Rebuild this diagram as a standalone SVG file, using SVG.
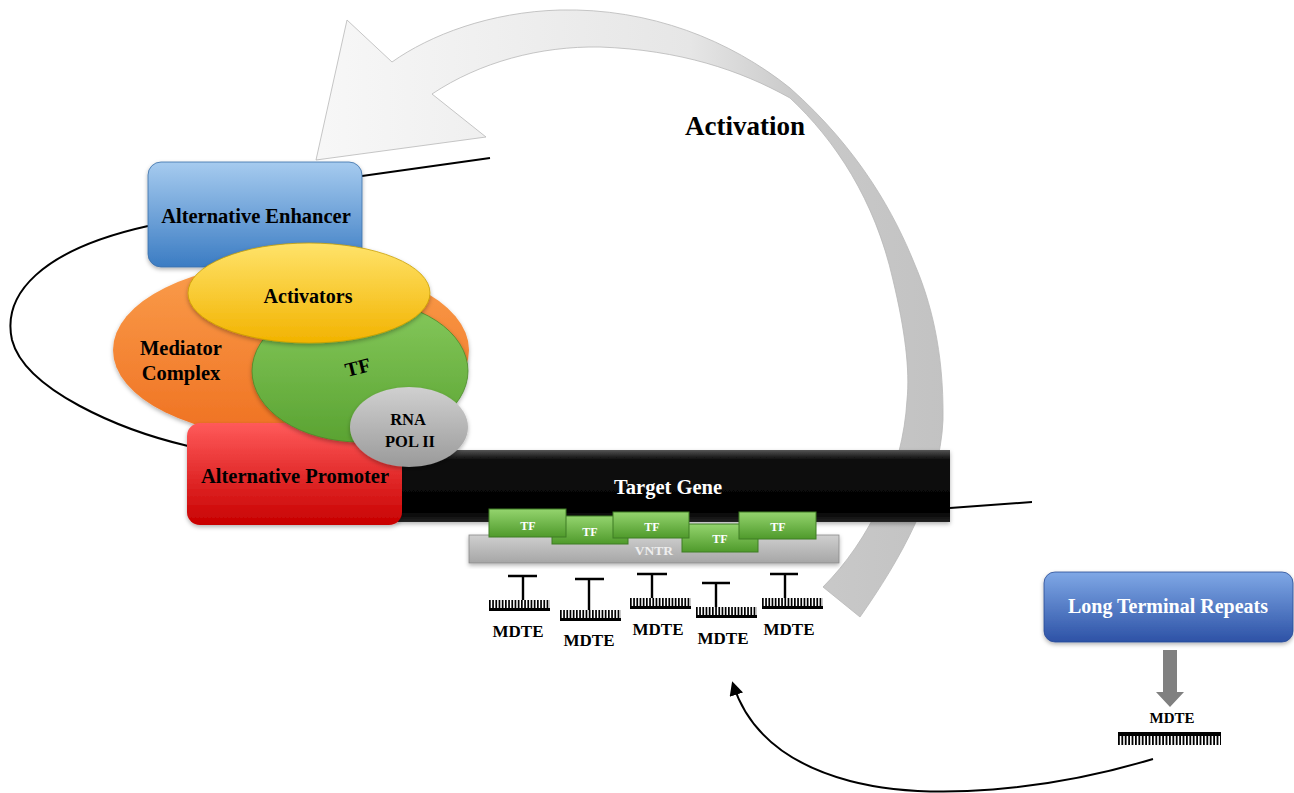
<svg xmlns="http://www.w3.org/2000/svg" xmlns:xlink="http://www.w3.org/1999/xlink" width="1294" height="793" viewBox="0 0 1294 793">
<defs>
<style>
.t{font-family:"Liberation Serif","Times New Roman",serif;font-weight:bold;text-anchor:middle;}
.blk{fill:#000;}
.wht{fill:#fff;}
.ln{fill:none;stroke:#000;stroke-width:2;}
.tbar{stroke:#000;stroke-width:2.4;fill:none;}
.tf{fill:url(#gGreen);stroke:#3f7d25;stroke-width:1;}
</style>
<linearGradient id="gArrow" gradientUnits="userSpaceOnUse" x1="300" y1="0" x2="950" y2="0">
<stop offset="0" stop-color="#f8f8f8"/>
<stop offset="0.6" stop-color="#e6e6e6"/>
<stop offset="0.76" stop-color="#cacaca"/>
<stop offset="1" stop-color="#c2c2c2"/>
</linearGradient>
<linearGradient id="gBlue" x1="0" y1="0" x2="0" y2="1">
<stop offset="0" stop-color="#a6cbef"/>
<stop offset="1" stop-color="#3b7cc3"/>
</linearGradient>
<linearGradient id="gLTR" x1="0" y1="0" x2="0" y2="1">
<stop offset="0" stop-color="#7fa8e6"/>
<stop offset="1" stop-color="#2d52a6"/>
</linearGradient>
<linearGradient id="gRed" x1="0" y1="0" x2="0" y2="1">
<stop offset="0" stop-color="#ff5a5a"/>
<stop offset="1" stop-color="#c80000"/>
</linearGradient>
<linearGradient id="gOrange" x1="0" y1="0" x2="0" y2="1">
<stop offset="0" stop-color="#fa9d4c"/>
<stop offset="1" stop-color="#ef7121"/>
</linearGradient>
<linearGradient id="gYellow" x1="0" y1="0" x2="0" y2="1">
<stop offset="0" stop-color="#ffe36a"/>
<stop offset="1" stop-color="#f2b300"/>
</linearGradient>
<linearGradient id="gGreenE" x1="0" y1="0" x2="0" y2="1">
<stop offset="0" stop-color="#86c95c"/>
<stop offset="1" stop-color="#5aa332"/>
</linearGradient>
<linearGradient id="gGreen" x1="0" y1="0" x2="0" y2="1">
<stop offset="0" stop-color="#94d46e"/>
<stop offset="1" stop-color="#4f9a2b"/>
</linearGradient>
<linearGradient id="gGray" x1="0" y1="0" x2="0" y2="1">
<stop offset="0" stop-color="#d0d0d0"/>
<stop offset="1" stop-color="#9a9a9a"/>
</linearGradient>
<linearGradient id="gVNTR" x1="0" y1="0" x2="0" y2="1">
<stop offset="0" stop-color="#cfcfcf"/>
<stop offset="1" stop-color="#a6a6a6"/>
</linearGradient>
<linearGradient id="gBlack" x1="0" y1="0" x2="0" y2="1">
<stop offset="0" stop-color="#555"/>
<stop offset="0.12" stop-color="#111"/>
<stop offset="0.85" stop-color="#000"/>
<stop offset="1" stop-color="#222"/>
</linearGradient>
<filter id="sh" x="-10%" y="-10%" width="120%" height="130%">
<feDropShadow dx="0" dy="2" stdDeviation="2" flood-color="#000" flood-opacity="0.3"/>
</filter>
<g id="combUp">
<line x1="0" y1="4.5" x2="61" y2="4.5" stroke="#000" stroke-width="9" stroke-dasharray="1.7 1.5"/>
<rect x="0" y="8" width="61" height="3" fill="#000"/>
</g>
<marker id="ah" viewBox="0 0 10 10" refX="8" refY="5" markerWidth="7" markerHeight="7" orient="auto-start-reverse">
<path d="M0,0 L10,5 L0,10 Z" fill="#000"/>
</marker>
</defs>

<rect width="1294" height="793" fill="#fff"/>

<g id="connectors">
<path class="ln" d="M148,226 C40,250 2,295 12,340 C25,390 120,430 188,446"/>
<path class="ln" d="M362,176 L490,158"/>
<path class="ln" d="M950,508 L1032,502"/>
<path class="ln" d="M1153,759 C1050,790 930,802 850,781 C775,761 745,722 733,684" marker-end="url(#ah)"/>
</g>

<g id="activation-arrow">
<path d="M860,617 C900,560 940,490 943,420 C944,350 930,300 915,265 C895,215 860,150 790,88 C730,40 650,8 560,10 C490,12 430,35 392,62 L347,20 L316,160 L486,137 L432,94 C480,62 540,46 600,47 C680,50 740,70 790,98 C835,140 875,200 893,280 C905,330 910,370 907,400 C903,470 870,540 823,587 Z" fill="url(#gArrow)" stroke="#b8b8b8" stroke-width="0.8"/>
<text class="t blk" x="745" y="135" font-size="27">Activation</text>
</g>

<g id="target-gene">
<rect x="395" y="450" width="555" height="72" fill="url(#gBlack)" filter="url(#sh)"/>
<text class="t wht" x="668" y="494" font-size="20.5">Target Gene</text>
</g>

<g id="mediator-complex">
<ellipse cx="291" cy="350" rx="178" ry="88" fill="url(#gOrange)" filter="url(#sh)"/>
<text class="t blk" x="181" y="355" font-size="20.5">Mediator</text>
<text class="t blk" x="181" y="380" font-size="20.5">Complex</text>
</g>

<g id="alternative-enhancer">
<rect x="148" y="162" width="214" height="105" rx="13" fill="url(#gBlue)" stroke="#3a6fa8" stroke-width="0.8" filter="url(#sh)"/>
<text class="t blk" x="256" y="223" font-size="20.5">Alternative Enhancer</text>
</g>

<g id="alternative-promoter">
<rect x="187" y="423" width="215" height="102" rx="13" fill="url(#gRed)" filter="url(#sh)"/>
<text class="t blk" x="295" y="483" font-size="20.5">Alternative Promoter</text>
</g>

<g id="tf-ellipse">
<ellipse cx="360" cy="371" rx="108" ry="71" fill="url(#gGreenE)" stroke="#4a8a2a" stroke-width="0.8" filter="url(#sh)"/>
<text class="t blk" x="358" y="374" font-size="20" transform="rotate(-14 358 368)">TF</text>
</g>

<g id="activators">
<ellipse cx="309" cy="293" rx="121" ry="50" fill="url(#gYellow)" stroke="#c9a000" stroke-width="0.8" filter="url(#sh)"/>
<text class="t blk" x="308" y="303" font-size="20">Activators</text>
</g>

<g id="rna-pol-ii">
<ellipse cx="409" cy="427" rx="59" ry="40" fill="url(#gGray)" filter="url(#sh)"/>
<text class="t blk" x="408" y="425" font-size="16.5">RNA</text>
<text class="t blk" x="410" y="447" font-size="16.5">POL II</text>
</g>

<g id="vntr">
<rect x="469" y="535" width="370" height="28" fill="url(#gVNTR)" stroke="#8a8a8a" stroke-width="0.8" filter="url(#sh)"/>
<text class="t" x="654" y="555" font-size="13.5" fill="#eeeeee">VNTR</text>
</g>

<g id="tf-2"><rect class="tf" x="552" y="516" width="76" height="28"/><text class="t wht" x="590" y="536" font-size="12">TF</text></g>
<g id="tf-4"><rect class="tf" x="682" y="524" width="76" height="28"/><text class="t wht" x="720" y="543" font-size="12">TF</text></g>
<g id="tf-1"><rect class="tf" x="489" y="509" width="77" height="28"/><text class="t wht" x="528" y="530" font-size="12">TF</text></g>
<g id="tf-3"><rect class="tf" x="613" y="512" width="76" height="26"/><text class="t wht" x="652" y="531" font-size="12">TF</text></g>
<g id="tf-5"><rect class="tf" x="739" y="512" width="77" height="27"/><text class="t wht" x="778" y="531" font-size="12">TF</text></g>

<g id="mdte-1">
<path class="tbar" d="M508,576 H537 M523,576 V600"/>
<use xlink:href="#combUp" x="489" y="600"/>
<text class="t blk" x="518" y="637" font-size="17">MDTE</text>
</g>
<g id="mdte-2">
<path class="tbar" d="M575,579 H604 M589,579 V610"/>
<use xlink:href="#combUp" x="560" y="610"/>
<text class="t blk" x="589" y="646" font-size="17">MDTE</text>
</g>
<g id="mdte-3">
<path class="tbar" d="M637,574 H667 M652,574 V598"/>
<use xlink:href="#combUp" x="630" y="598"/>
<text class="t blk" x="658" y="635" font-size="17">MDTE</text>
</g>
<g id="mdte-4">
<path class="tbar" d="M702,583 H730 M716,583 V607"/>
<use xlink:href="#combUp" x="696" y="607"/>
<text class="t blk" x="723" y="644" font-size="17">MDTE</text>
</g>
<g id="mdte-5">
<path class="tbar" d="M770,574 H798 M785,574 V598"/>
<use xlink:href="#combUp" x="762" y="598"/>
<text class="t blk" x="789" y="635" font-size="17">MDTE</text>
</g>

<g id="long-terminal-repeats">
<rect x="1044" y="572" width="249" height="70" rx="11" fill="url(#gLTR)" stroke="#2a4c96" stroke-width="0.8" filter="url(#sh)"/>
<text class="t wht" x="1168" y="613" font-size="20">Long Terminal Repeats</text>
</g>

<g id="ltr-arrow">
<path d="M1163,650 H1177 V692 H1184 L1170,707 L1156,692 H1163 Z" fill="#808080"/>
</g>

<g id="mdte-ltr">
<text class="t blk" x="1172" y="723" font-size="15">MDTE</text>
<rect x="1118" y="732" width="103" height="4" fill="#000"/>
<line x1="1118" y1="740.5" x2="1221" y2="740.5" stroke="#000" stroke-width="9" stroke-dasharray="1.8 1.6"/>
</g>
</svg>
